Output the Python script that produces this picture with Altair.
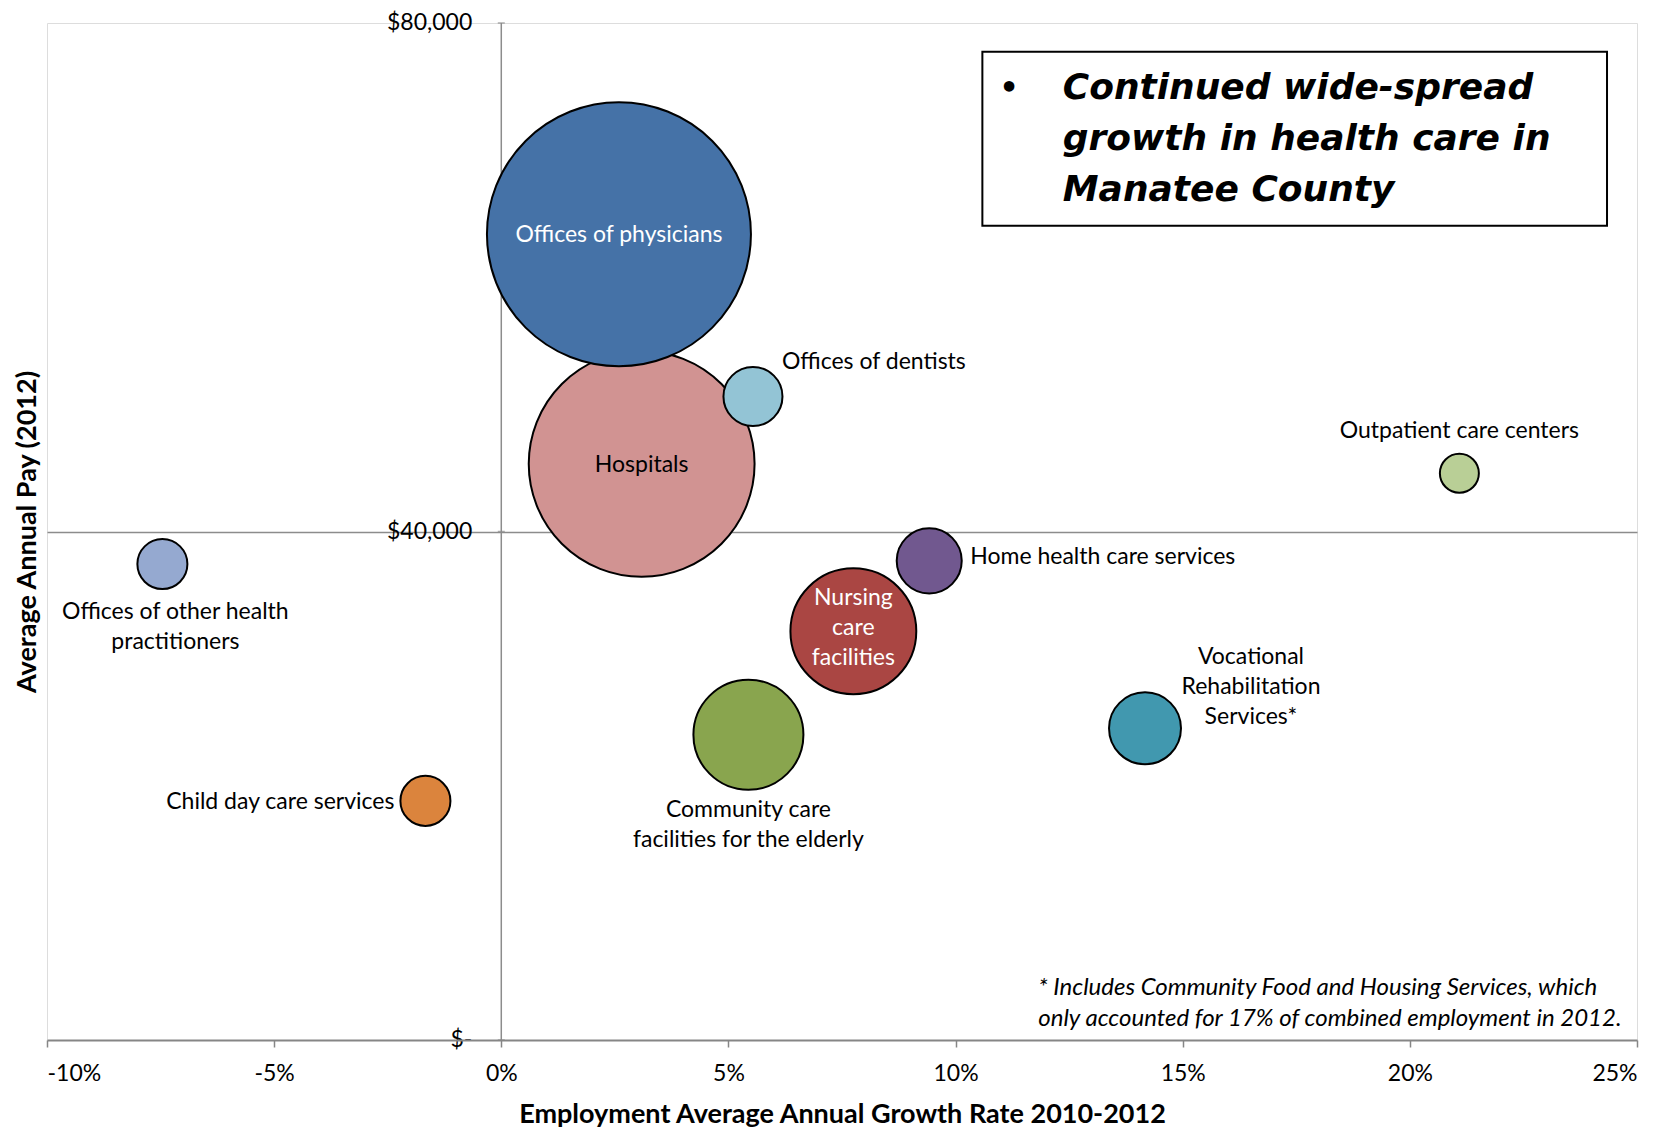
import altair as alt
import pandas as pd

# ---- data ----
industries = [
    "Hospitals",
    "Offices of physicians",
    "Offices of dentists",
    "Outpatient care centers",
    "Offices of other health practitioners",
    "Home health care services",
    "Nursing care facilities",
    "Community care facilities for the elderly",
    "Vocational Rehabilitation Services*",
    "Child day care services",
]
growth = [0.0309, 0.0259, 0.0554, 0.2109, -0.0746, 0.0942, 0.0775, 0.0544, 0.1417, -0.0167]
avg_pay = [45320, 63380, 50620, 44580, 37440, 37690, 32150, 24010, 24520, 18810]
employment = [3220, 4400, 220, 96, 158, 267, 1000, 764, 327, 158]
colors = ["#D19392", "#4572A7", "#93C4D5", "#B9CF96", "#95A9D0",
          "#71588F", "#AA4643", "#89A54E", "#4198AF", "#DB843D"]
label_lines = [
    ["Hospitals"],
    ["Offices of physicians"],
    ["Offices of dentists"],
    ["Outpatient care centers"],
    ["Offices of other health", "practitioners"],
    ["Home health care services"],
    ["Nursing", "care", "facilities"],
    ["Community care", "facilities for the elderly"],
    ["Vocational", "Rehabilitation", "Services*"],
    ["Child day care services"],
]
x_ticks = [-0.10, -0.05, 0.0, 0.05, 0.10, 0.15, 0.20, 0.25]
y_tick_values = [0, 40000, 80000]
y_tick_labels = ["$-", "$40,000", "$80,000"]
callout_lines = ["Continued wide-spread", "growth in health care in", "Manatee County"]
footnote_lines = ["* Includes Community Food and Housing Services, which",
                  "only accounted for 17% of combined employment in 2012."]

df = pd.DataFrame({"industry": industries, "growth": growth, "pay": avg_pay,
                   "emp": employment})

FONT = "Lato"
FS = 23

xs = alt.Scale(domain=[-0.10, 0.25], nice=False, zero=False)
ys = alt.Scale(domain=[0, 80000], nice=False)

X = alt.X("growth:Q", scale=xs,
          axis=alt.Axis(values=x_ticks, format=".0%",
                        labelExpr="replace(datum.label, '\u2212', '-')", grid=False,
                        title="Employment Average Annual Growth Rate 2010-2012",
                        domainColor="#868686", domainWidth=2,
                        tickColor="#868686", tickWidth=1.5, tickSize=7,
                        labelPadding=15, labelFontSize=FS, labelFont=FONT,
                        labelColor="black", titleFont=FONT, titleFontSize=27,
                        titleFontWeight="bold", titlePadding=16, titleColor="black",
                        zindex=1))
Y = alt.Y("pay:Q", scale=ys,
          axis=alt.Axis(values=[40000], grid=True, gridColor="#8c8c8c", gridWidth=1.5,
                        domain=False, ticks=False, labels=False,
                        title="Average Annual Pay (2012)", titleFont=FONT,
                        titleFontSize=27, titleFontWeight="bold", titlePadding=6,
                        titleColor="black"))

# vertical zero line (y axis crossing at 0%)
zero_df = pd.DataFrame({"growth": [0.0]})
zero_rule = alt.Chart(zero_df).mark_rule(color="#8c8c8c", strokeWidth=1.5).encode(
    x=alt.X("growth:Q", scale=xs))

# y tick labels at the 0% crossing
ytl_df = pd.DataFrame({"growth": [0.0] * 3, "pay": y_tick_values, "lab": y_tick_labels})
ytick_marks = alt.Chart(ytl_df).mark_tick(color="#8c8c8c", thickness=1.5, size=7,
                                          orient="horizontal", dx=-3.5).encode(
    x=alt.X("growth:Q", scale=xs), y=alt.Y("pay:Q", scale=ys))
ytl = alt.Chart(ytl_df).mark_text(align="right", baseline="middle", dx=-29,
                                  font=FONT, fontSize=FS, color="black").encode(
    x=alt.X("growth:Q", scale=xs), y=alt.Y("pay:Q", scale=ys), text="lab:N")

bubbles = alt.Chart(df).mark_circle(opacity=1, stroke="black", strokeWidth=2).encode(
    x=X, y=Y,
    size=alt.Size("emp:Q", scale=alt.Scale(domain=[0, 4400], range=[0, 4 * 132 * 132]),
                  legend=None),
    color=alt.Color("industry:N", scale=alt.Scale(domain=industries, range=colors),
                    legend=None),
)

# label placement: (align, baseline, dx, dy, color)
placements = [
    ("center", "middle", 0, 1, "black"),
    ("center", "middle", 0, 1, "white"),
    ("left", "middle", 29, -34, "black"),
    ("center", "middle", 0, -42, "black"),
    ("center", "top", 13, 47 - 10, "black"),
    ("left", "middle", 41, -4, "black"),
    ("center", "top", 0, -34 - 10, "white"),
    ("center", "top", 0, 74 - 10, "black"),
    ("center", "top", 106, -72 - 10, "black"),
    ("right", "middle", -31, 1, "black"),
]
label_layers = []
for i, (al, bl, dx, dy, col) in enumerate(placements):
    row = pd.DataFrame({"growth": [growth[i]], "pay": [avg_pay[i]],
                        "txt": ["\n".join(label_lines[i])]})
    label_layers.append(
        alt.Chart(row).mark_text(align=al, baseline=bl, dx=dx, dy=dy, font=FONT,
                                 fontSize=FS, color=col, lineBreak="\n",
                                 lineHeight=30).encode(
            x=alt.X("growth:Q", scale=xs), y=alt.Y("pay:Q", scale=ys), text="txt:N"))

# callout box
box_df = pd.DataFrame({"x": [0.1059], "x2": [0.2434], "y": [64050], "y2": [77740]})
box = alt.Chart(box_df).mark_rect(fill="white", stroke="black", strokeWidth=2).encode(
    x=alt.X("x:Q", scale=xs), x2="x2:Q", y=alt.Y("y:Q", scale=ys), y2="y2:Q")
bullet = alt.Chart(pd.DataFrame({"x": [0.1118], "y": [74800], "t": ["•"]})).mark_text(
    align="center", baseline="middle", font="DejaVu Sans", fontSize=30,
    fontWeight="bold", color="black").encode(
    x=alt.X("x:Q", scale=xs), y=alt.Y("y:Q", scale=ys), text="t:N")
callout = alt.Chart(pd.DataFrame({"x": [0.1236], "y": [76200],
                                  "t": ["\n".join(callout_lines)]})).mark_text(
    align="left", baseline="top", font="DejaVu Sans", fontSize=36, fontWeight="bold",
    fontStyle="italic", color="black", lineBreak="\n", lineHeight=51).encode(
    x=alt.X("x:Q", scale=xs), y=alt.Y("y:Q", scale=ys), text="t:N")

foot = alt.Chart(pd.DataFrame({"x": [0.1182], "y": [5000],
                               "t": ["\n".join(footnote_lines)]})).mark_text(
    align="left", baseline="top", font=FONT, fontSize=24, fontStyle="italic",
    color="black", lineBreak="\n", lineHeight=31).encode(
    x=alt.X("x:Q", scale=xs), y=alt.Y("y:Q", scale=ys), text="t:N")

chart = alt.layer(
    zero_rule, ytick_marks, bubbles, *label_layers, ytl, box, bullet, callout, foot
).properties(
    width=1590, height=1017,
    padding={"left": 5, "top": 4, "right": 5, "bottom": 5},
).configure_view(stroke="black", strokeWidth=2).configure(background="white")

chart.save("out.html", embed_options={"renderer": "svg", "actions": False})
